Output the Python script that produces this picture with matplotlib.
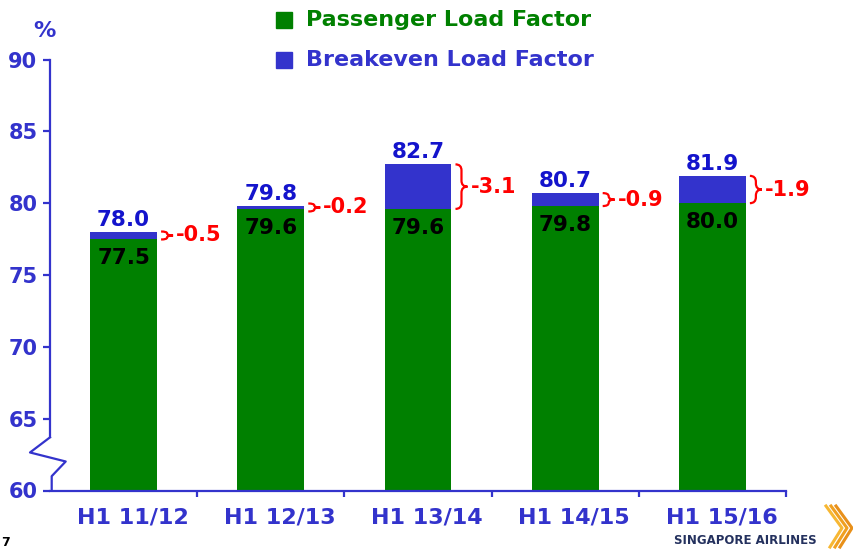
import numpy as np
import matplotlib
matplotlib.use("Agg")
import matplotlib.pyplot as plt
import matplotlib.transforms as mtransforms
from matplotlib.path import Path
from matplotlib.patches import PathPatch, Rectangle
from matplotlib.lines import Line2D

# data
periods = ["H1 11/12", "H1 12/13", "H1 13/14", "H1 14/15", "H1 15/16"]
passenger_lf = [77.5, 79.6, 79.6, 79.8, 80.0]
breakeven_lf = [78.0, 79.8, 82.7, 80.7, 81.9]
y_ticks = [60, 65, 70, 75, 80, 85, 90]

GREEN = "#008000"
BLUE = "#3333CC"
LBL_BLUE = "#1414CC"
RED = "#FF0000"
W, H = 854, 550

plt.rcParams["font.family"] = ["DejaVu Sans"]
plt.rcParams["font.weight"] = "bold"

fig = plt.figure(figsize=(W / 100, H / 100), dpi=100)
ax = fig.add_axes([50 / W, (H - 490.5) / H, 736 / W, 431 / H])


def fx(px):
    return px / W


def fy(py):
    return 1 - py / H


x = np.arange(len(periods))
bar_w = 0.455
ax.bar(x, passenger_lf, width=bar_w, color=GREEN, bottom=0, zorder=2)
ax.bar(x, np.array(breakeven_lf) - np.array(passenger_lf), width=bar_w,
       bottom=passenger_lf, color=BLUE, zorder=2)

ax.set_xlim(-0.5, len(periods) - 0.5)
ax.set_ylim(60, 90)

# axes styling
for s in ["top", "right", "left"]:
    ax.spines[s].set_visible(False)
ax.spines["bottom"].set_color(BLUE)
ax.spines["bottom"].set_linewidth(1.6)

ax.set_yticks(y_ticks)
ax.tick_params(axis="y", colors=BLUE, labelsize=15, length=5, width=1.6, pad=4)
ax.set_xticks(x)
ax.set_xticklabels(periods)
ax.set_xticks(list(x + 0.5), minor=True)
ax.tick_params(axis="x", which="major", length=0, colors=BLUE, labelsize=16, pad=12)
ax.tick_params(axis="x", which="minor", length=4, width=1.6, color=BLUE)
shift = mtransforms.ScaledTranslation(0.09, 0, fig.dpi_scale_trans)
for lbl in ax.get_xticklabels():
    lbl.set_transform(lbl.get_transform() + shift)

# y axis line with break
brk = 63.7
ax.plot([0, 0], [brk, 90], color=BLUE, lw=1.6, transform=ax.get_yaxis_transform(),
        clip_on=False, zorder=3)
zx = [0 / 736, -20 / 736, 15.7 / 736, 1.7 / 736, 1.7 / 736]
zy = [brk, 60 + (490 - 452) / 14.36, 60 + (490 - 461) / 14.36,
      60 + (490 - 475.7) / 14.36, 60]
ax.plot(zx, zy, color=BLUE, lw=1.6, transform=ax.get_yaxis_transform(),
        clip_on=False, zorder=3)

# pixel -> data scale
p0 = ax.transData.transform((0, 60))
p1 = ax.transData.transform((1, 61))
dx = 1 / (p1[0] - p0[0])
dy = 1 / (p1[1] - p0[1])


def brace(xr, y_lo, y_hi):
    h = max((y_hi - y_lo) / dy / 2, 4.0)
    w = 12.0
    r = min(h / 2, 6.0)
    pts = [(0, h), (w / 2, h), (w / 2, h - r), (w / 2, r), (w / 2, 0), (w, 0),
           (w / 2, 0), (w / 2, -r), (w / 2, -h + r), (w / 2, -h), (0, -h)]
    codes = [Path.MOVETO, Path.CURVE3, Path.CURVE3, Path.LINETO, Path.CURVE3,
             Path.CURVE3, Path.CURVE3, Path.CURVE3, Path.LINETO, Path.CURVE3,
             Path.CURVE3]
    ym = (y_lo + y_hi) / 2
    verts = [(xr + px * dx, ym + py * dy) for px, py in pts]
    ax.add_patch(PathPatch(Path(verts, codes), fill=False, edgecolor=RED,
                           lw=1.6, clip_on=False, zorder=4))
    return xr + (w + 3) * dx, ym


for i in range(len(periods)):
    pl, bl = passenger_lf[i], breakeven_lf[i]
    ax.annotate(f"{bl:.1f}", (i, bl), xytext=(0, 4.3), textcoords="offset points",
                ha="center", va="baseline", color=LBL_BLUE, fontsize=15.5,
                fontweight="bold")
    ax.annotate(f"{pl:.1f}", (i, pl), xytext=(0, -18), textcoords="offset points",
                ha="center", va="baseline", color="black", fontsize=15.5,
                fontweight="bold", zorder=5)
    tx, ty = brace(i + bar_w / 2 + 4 * dx, pl, bl)
    ax.text(tx, ty, f"{pl - bl:.1f}", ha="left", va="center", color=RED,
            fontsize=15, fontweight="bold", clip_on=False)

# "%" label
fig.text(fx(44), fy(31), "%", ha="center", va="center", color=BLUE,
         fontsize=16, fontweight="bold")

# legend
for yc, col, lab in [(20, GREEN, "Passenger Load Factor"),
                     (60, BLUE, "Breakeven Load Factor")]:
    fig.patches.append(Rectangle((fx(276), fy(yc + 8)), 16 / W, 16 / H,
                                 transform=fig.transFigure, color=col))
    fig.text(fx(306), fy(yc), lab, ha="left", va="center", color=col,
             fontsize=16, fontweight="bold")

# page number and logo
fig.text(fx(1), fy(536), "7", ha="left", va="top", fontsize=9,
         fontweight="bold", color="black")
fig.text(fx(745), fy(540), "SINGAPORE AIRLINES", ha="center", va="center",
         fontsize=8.5, fontweight="bold", color="#24315e")
for k, c in enumerate(["#F7B733", "#F0A020", "#E8901A"]):
    off = k * 5
    fig.lines.append(Line2D([fx(826 + off), fx(842 + off), fx(830 + off)],
                            [fy(506), fy(528), fy(547)],
                            transform=fig.transFigure, color=c, lw=2.2))

fig.savefig("out.png", dpi=100)
